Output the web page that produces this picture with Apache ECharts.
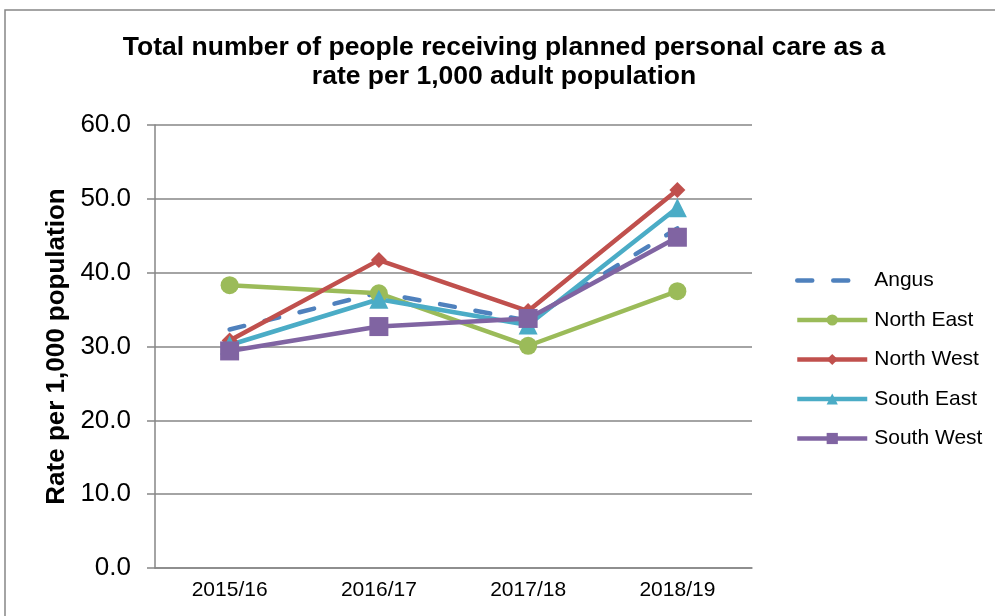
<!DOCTYPE html>
<html><head><meta charset="utf-8">
<script src="https://cdn.jsdelivr.net/npm/echarts@6/dist/echarts.min.js"></script>
<style>html,body{margin:0;padding:0;background:#fff}#c{width:995px;height:616px}</style>
</head><body><div id="c"></div>
<script>
const categories = ['2015/16', '2016/17', '2017/18', '2018/19'];
const angus = [32.3, 37.3, 33.5, 46.0];
const northEast = [38.3, 37.2, 30.1, 37.5];
const northWest = [30.8, 41.7, 34.8, 51.2];
const southEast = [30.2, 36.4, 32.9, 48.8];
const southWest = [29.4, 32.7, 33.8, 44.8];
const yTicks = [0, 10, 20, 30, 40, 50, 60];

const FONT = '"Liberation Sans", Arial, sans-serif';
const chart = echarts.init(document.getElementById('c'), null, {renderer: 'canvas'});
function s(name, data, color, symbol, size, dashed) {
  return {
    name, type: 'line', data, symbol, symbolSize: size,
    showSymbol: symbol !== 'none',
    lineStyle: {color, width: 4.5, type: dashed ? [15, 21] : 'solid', cap: dashed ? 'round' : 'butt'},
    itemStyle: {color},
    emphasis: {disabled: true},
    z: 3
  };
}
chart.setOption({
  animation: false,
  graphic: [{type: 'rect', shape: {x: 5, y: 10, width: 1000, height: 620},
    style: {fill: 'none', stroke: '#868686', lineWidth: 1.5}, silent: true, z: -1}],
  title: {
    text: 'Total number of people receiving planned personal care as a\nrate per 1,000 adult population',
    left: 504, top: 33, textAlign: 'center', padding: 0,
    textStyle: {fontFamily: FONT, fontSize: 26.5, fontWeight: 'bold', color: '#000', lineHeight: 29}
  },
  legend: {
    orient: 'vertical', left: 795, top: 270, padding: 0, itemWidth: 70, itemHeight: 14, itemGap: 18.5,
    textStyle: {fontFamily: FONT, fontSize: 21, color: '#000', padding: [0, 0, 0, 2]},
    lineStyle: {width: 4.5},
    data: [
      {name: 'Angus', itemStyle: {color: 'rgba(0,0,0,0)', borderWidth: 0}},
      'North East', 'North West', 'South East', 'South West'
    ]
  },
  grid: {left: 155, right: 243, top: 125, bottom: 48},
  xAxis: {
    type: 'category', data: categories,
    axisLine: {lineStyle: {color: '#868686', width: 1.5}},
    axisTick: {lineStyle: {color: '#868686', width: 1.5}, length: 6},
    axisLabel: {fontFamily: FONT, fontSize: 21, color: '#000', margin: 12}
  },
  yAxis: {
    type: 'value', min: yTicks[0], max: yTicks[yTicks.length - 1], interval: 10,
    name: 'Rate per 1,000 population', nameLocation: 'middle', nameRotate: 90, nameGap: 67,
    nameTextStyle: {fontFamily: FONT, fontSize: 26, fontWeight: 'bold', color: '#000'},
    axisLine: {show: true, lineStyle: {color: '#868686', width: 1.5}},
    axisTick: {show: true, length: 8, lineStyle: {color: '#868686', width: 1.5}},
    axisLabel: {fontFamily: FONT, fontSize: 26, color: '#000', margin: 24,
      formatter: v => v.toFixed(1)},
    splitLine: {lineStyle: {color: '#868686', width: 1.5}}
  },
  series: [
    s('Angus', angus, '#4F81BD', 'none', 0, true),
    s('North East', northEast, '#9BBB59', 'circle', 18),
    s('North West', northWest, '#C0504D', 'diamond', 16),
    s('South East', southEast, '#4BACC6', 'triangle', 19),
    s('South West', southWest, '#8064A2', 'rect', 19)
  ]
});
</script></body></html>
